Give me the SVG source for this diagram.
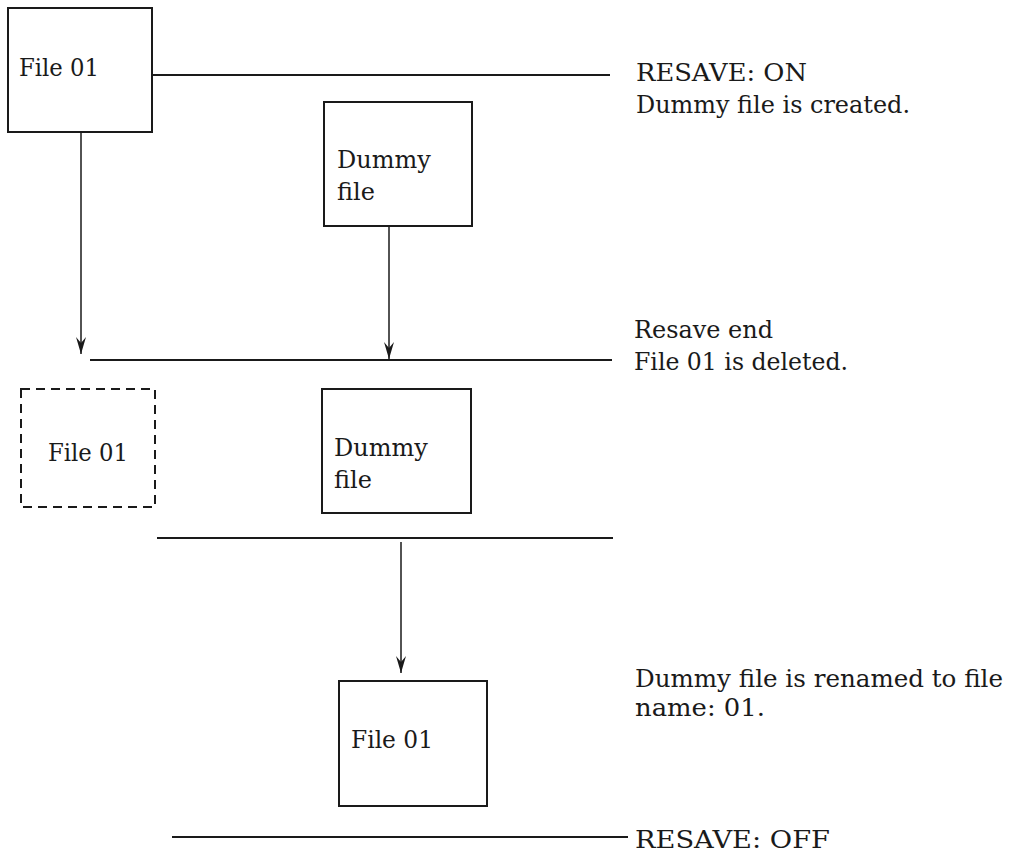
<svg xmlns="http://www.w3.org/2000/svg" width="1013" height="857" viewBox="0 0 1013 857">
<defs>
<style>
.box{fill:#fff;stroke:#1a1a1a;stroke-width:2}
.dash{fill:none;stroke:#1a1a1a;stroke-width:2;stroke-dasharray:9 6}
.ln{stroke:#1a1a1a;stroke-width:2;fill:none}
.t{font-family:"DejaVu Serif","Liberation Serif",serif;font-size:24px;fill:#1a1a1a}
</style>
<marker id="ah" viewBox="0 0 18 10" refX="17" refY="5" markerWidth="18" markerHeight="10" markerUnits="userSpaceOnUse" orient="auto">
<path d="M0,0 L6,5 L0,10 L17,5 Z" fill="#1a1a1a"/>
</marker>
</defs>
<rect width="1013" height="857" fill="#fff"/>
<g id="connectors">
<line class="ln" x1="152" y1="75" x2="610" y2="75"/>
<line class="ln" x1="90" y1="360" x2="612" y2="360"/>
<line class="ln" x1="157" y1="538" x2="613" y2="538"/>
<line class="ln" x1="172" y1="837" x2="628" y2="837"/>
<line class="ln" x1="81" y1="132" x2="81" y2="354" style="stroke-width:1.5" marker-end="url(#ah)"/>
<line class="ln" x1="389" y1="226" x2="389" y2="359" style="stroke-width:1.5" marker-end="url(#ah)"/>
<line class="ln" x1="401" y1="542" x2="401" y2="673" style="stroke-width:1.5" marker-end="url(#ah)"/>
</g>
<g id="file01-top">
<rect class="box" x="8" y="8" width="144" height="124"/>
<text class="t" x="19" y="76" textLength="80" lengthAdjust="spacingAndGlyphs">File 01</text>
</g>
<g id="dummy-top">
<rect class="box" x="324" y="102" width="148" height="124"/>
<text class="t" x="337" y="168">Dummy</text>
<text class="t" x="337" y="200">file</text>
</g>
<g id="file01-deleted">
<rect class="dash" x="21" y="389" width="134" height="118"/>
<text class="t" x="48" y="461" textLength="80" lengthAdjust="spacingAndGlyphs">File 01</text>
</g>
<g id="dummy-mid">
<rect class="box" x="322" y="389" width="149" height="124"/>
<text class="t" x="334" y="456">Dummy</text>
<text class="t" x="334" y="488">file</text>
</g>
<g id="file01-final">
<rect class="box" x="339" y="681" width="148" height="125"/>
<text class="t" x="351" y="748" textLength="82" lengthAdjust="spacingAndGlyphs">File 01</text>
</g>
<g id="labels">
<text class="t" x="636" y="81" textLength="171" lengthAdjust="spacingAndGlyphs">RESAVE: ON</text>
<text class="t" x="636" y="113" textLength="274" lengthAdjust="spacingAndGlyphs">Dummy file is created.</text>
<text class="t" x="634" y="338" textLength="139" lengthAdjust="spacingAndGlyphs">Resave end</text>
<text class="t" x="634" y="370" textLength="214" lengthAdjust="spacingAndGlyphs">File 01 is deleted.</text>
<text class="t" x="635" y="687" textLength="368" lengthAdjust="spacingAndGlyphs">Dummy file is renamed to file</text>
<text class="t" x="635" y="716" textLength="130" lengthAdjust="spacingAndGlyphs">name: 01.</text>
<text class="t" x="635" y="848" textLength="195" lengthAdjust="spacingAndGlyphs">RESAVE: OFF</text>
</g>
</svg>
